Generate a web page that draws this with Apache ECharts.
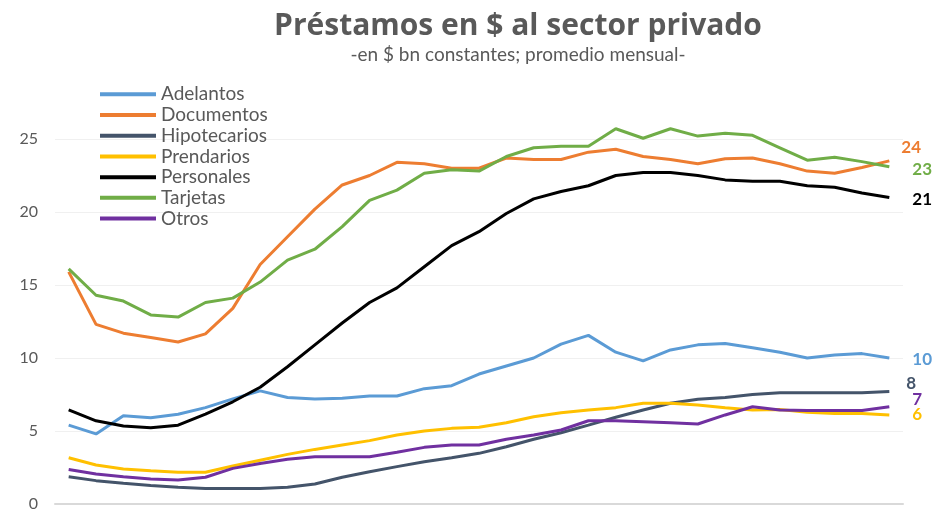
<!DOCTYPE html>
<html>
<head>
<meta charset="utf-8">
<script src="https://cdn.jsdelivr.net/npm/echarts@6/dist/echarts.min.js"></script>
<style>
  html, body { margin: 0; padding: 0; background: #fff; }
  #chart { width: 950px; height: 512px; }
</style>
</head>
<body>
<div id="chart"></div>
<script>
// Get dom in html
let chart_dom = document.getElementById("chart");
let chart = echarts.init(chart_dom);
//----------------------Data----------------------
let periods = ["1", "2", "3", "4", "5", "6", "7", "8", "9", "10",
               "11", "12", "13", "14", "15", "16", "17", "18", "19", "20",
               "21", "22", "23", "24", "25", "26", "27", "28", "29", "30", "31"];

let adelantos    = [5.4, 4.8, 6.05, 5.9, 6.15, 6.6, 7.2, 7.75, 7.3, 7.2, 7.25, 7.4, 7.4, 7.9, 8.1, 8.9,
                    9.45, 10.0, 10.95, 11.55, 10.4, 9.8, 10.55, 10.9, 11.0, 10.7, 10.4, 10.0, 10.2, 10.3, 10.0];
let documentos   = [15.9, 12.3, 11.7, 11.4, 11.1, 11.65, 13.4, 16.4, 18.3, 20.2, 21.85, 22.5, 23.4, 23.3, 23.0, 23.0,
                    23.7, 23.6, 23.6, 24.1, 24.3, 23.8, 23.6, 23.3, 23.65, 23.7, 23.3, 22.8, 22.65, 23.05, 23.5];
let hipotecarios = [1.87, 1.6, 1.42, 1.26, 1.14, 1.07, 1.07, 1.07, 1.14, 1.37, 1.83, 2.21, 2.56, 2.9, 3.17, 3.47,
                    3.92, 4.43, 4.88, 5.4, 5.94, 6.44, 6.9, 7.17, 7.3, 7.5, 7.62, 7.62, 7.62, 7.62, 7.7];
let prendarios   = [3.17, 2.67, 2.4, 2.28, 2.17, 2.17, 2.6, 3.0, 3.4, 3.74, 4.04, 4.34, 4.73, 5.0, 5.18, 5.25,
                    5.57, 5.98, 6.25, 6.44, 6.6, 6.9, 6.9, 6.78, 6.6, 6.44, 6.48, 6.28, 6.2, 6.2, 6.1];
let personales   = [6.44, 5.7, 5.34, 5.23, 5.4, 6.16, 7.0, 8.0, 9.4, 10.9, 12.4, 13.8, 14.8, 16.25, 17.7, 18.65,
                    19.9, 20.9, 21.4, 21.8, 22.5, 22.7, 22.7, 22.5, 22.2, 22.1, 22.1, 21.8, 21.7, 21.3, 21.0];
let tarjetas     = [16.1, 14.3, 13.9, 12.95, 12.8, 13.8, 14.1, 15.2, 16.7, 17.45, 19.0, 20.8, 21.5, 22.65, 22.9, 22.8,
                    23.8, 24.4, 24.5, 24.5, 25.7, 25.05, 25.7, 25.2, 25.4, 25.25, 24.4, 23.55, 23.75, 23.45, 23.1];
let otros        = [2.37, 2.05, 1.87, 1.71, 1.64, 1.83, 2.44, 2.78, 3.06, 3.24, 3.24, 3.24, 3.54, 3.88, 4.04, 4.04,
                    4.43, 4.73, 5.07, 5.7, 5.7, 5.64, 5.57, 5.48, 6.1, 6.66, 6.44, 6.4, 6.4, 6.4, 6.66];

let series_names  = ["Adelantos", "Documentos", "Hipotecarios", "Prendarios", "Personales", "Tarjetas", "Otros"];
let series_values = [adelantos, documentos, hipotecarios, prendarios, personales, tarjetas, otros];
let end_labels    = ["10", "24", "8", "6", "21", "23", "7"];
//---------------------Style---------------------
let font_family  = "Lato";
let text_color   = "#595959";
let line_colors  = ["#5b9bd5", "#ed7d31", "#44546a", "#ffc000", "#000000", "#70ad47", "#7030a0"];
// label nudges [dx, dy] from the last point
let end_offsets  = [[23, 2], [12, -13], [17, -8], [23, 0], [23, 2], [23, 3], [23, -7]];
//---------------------Series---------------------
let series_list = series_names.map(function (name, i) {
    return {
        type: 'line',
        name: name,
        data: series_values[i],
        symbol: 'none',
        smooth: false,
        clip: false,
        color: line_colors[i],
        lineStyle: {width: 3, color: line_colors[i]},
        endLabel: {
            show: true,
            formatter: end_labels[i],
            distance: 0,
            offset: end_offsets[i],
            color: line_colors[i],
            fontFamily: font_family,
            fontWeight: 'bold',
            fontSize: 17
        }
    };
});
//------------------Generate Graph------------------
let option = {
    animation: false,
    backgroundColor: "#ffffff",
    title: {
        text: "Préstamos en $ al sector privado",
        subtext: "-en $ bn constantes; promedio mensual-",
        left: 513,
        top: 6,
        textAlign: 'center',
        itemGap: 4,
        textStyle: {fontFamily: "Open Sans", fontWeight: 'bold', fontSize: 30, color: text_color},
        subtextStyle: {fontFamily: font_family, fontSize: 19, color: text_color}
    },
    legend: {
        orient: 'vertical',
        left: 100,
        top: 84,
        padding: 0,
        icon: 'rect',
        itemWidth: 56,
        itemHeight: 4,
        itemGap: 0,
        textStyle: {fontFamily: font_family, fontSize: 19, color: text_color, lineHeight: 20.7}
    },
    grid: {left: 55, right: 47, top: 139, bottom: 8},
    xAxis: {
        type: 'category',
        data: periods,
        boundaryGap: true,
        axisLine: {lineStyle: {color: "#d9d9d9", width: 2}},
        axisTick: {show: false},
        axisLabel: {show: false}
    },
    yAxis: {
        type: 'value',
        min: 0,
        max: 25,
        interval: 5,
        axisLine: {show: false},
        axisTick: {show: false},
        splitLine: {lineStyle: {color: "#f0f0f0", width: 1}},
        axisLabel: {margin: 17, fontFamily: font_family, fontSize: 16, color: text_color}
    },
    series: series_list
};
chart.setOption(option, true);
</script>
</body>
</html>
